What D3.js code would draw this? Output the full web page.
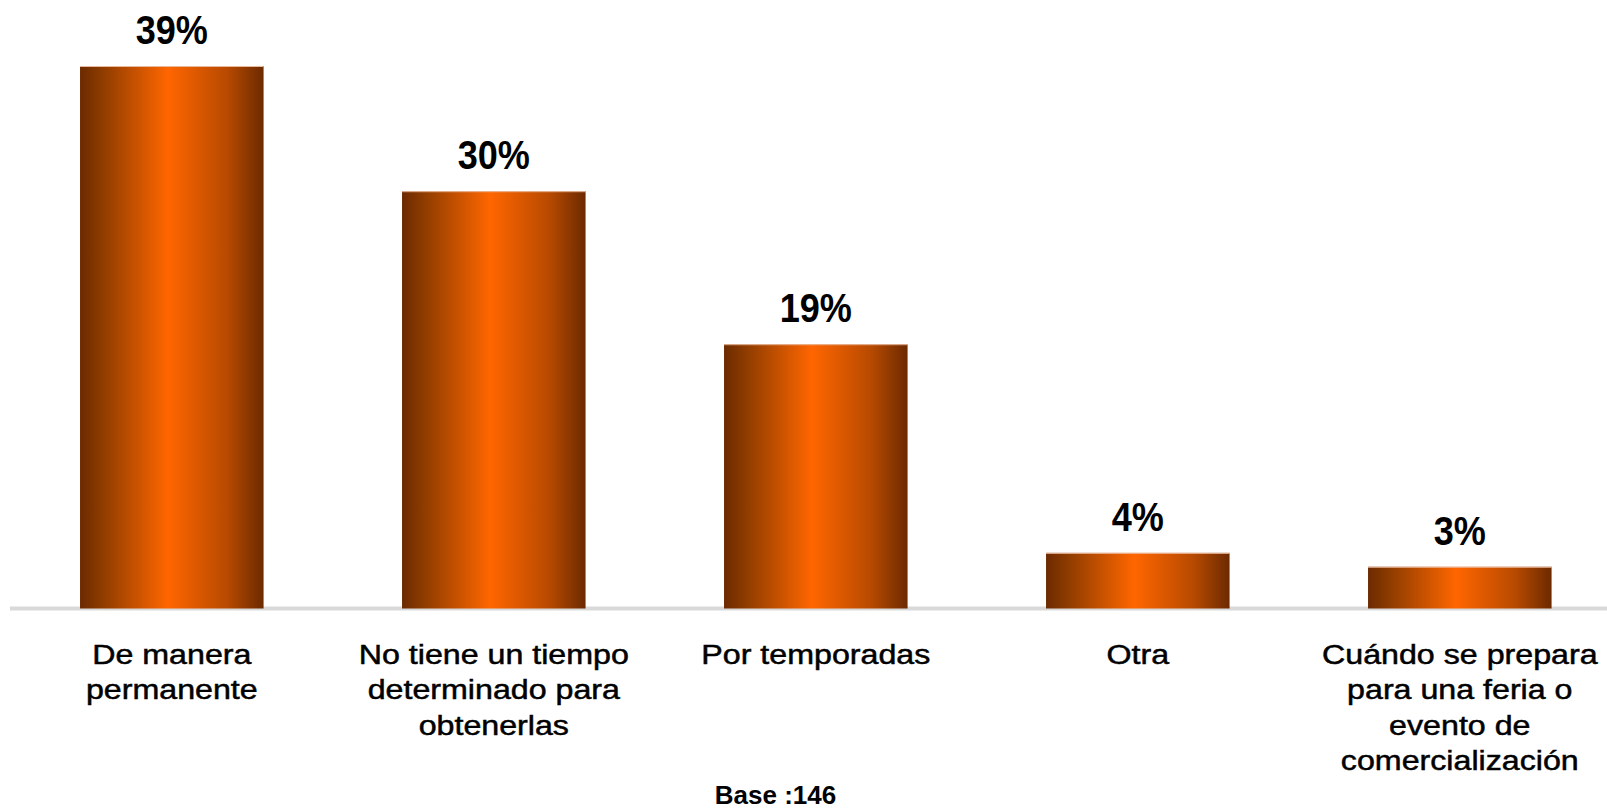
<!DOCTYPE html>
<html>
<head>
<meta charset="utf-8">
<script src="https://cdn.jsdelivr.net/npm/d3@7"></script>
<style>
  html, body { margin: 0; padding: 0; background: #fff; }
  svg { display: block; }
</style>
</head>
<body>
<div id="container"></div>
<script>
/* DATA */
const categories = [
  ["De manera", "permanente"],
  ["No tiene un tiempo", "determinado para", "obtenerlas"],
  ["Por temporadas"],
  ["Otra"],
  ["Cuándo se prepara", "para una feria o", "evento de", "comercialización"]
];
const values = [39, 30, 19, 4, 3];
const valueLabels = ["39%", "30%", "19%", "4%", "3%"];
const baseNote = "Base :146";

/* SIZES */
const width = 1607,
      height = 811,
      baseY = 608.5;

const svg = d3.select("#container")
  .append("svg")
  .attr("width", width)
  .attr("height", height);

// horizontal shading of the bars: dark edges, bright orange middle
const grad = svg.append("defs")
  .append("linearGradient")
  .attr("id", "barGrad")
  .attr("x1", "0%").attr("x2", "100%")
  .attr("y1", "0%").attr("y2", "0%");
grad.append("stop").attr("offset", "0%").attr("stop-color", "#6c2a00");
grad.append("stop").attr("offset", "12%").attr("stop-color", "#8e3c00");
grad.append("stop").attr("offset", "48%").attr("stop-color", "#ff6600");
grad.append("stop").attr("offset", "80%").attr("stop-color", "#b84a00");
grad.append("stop").attr("offset", "100%").attr("stop-color", "#6c2a00");

// scales
const xScale = d3.scaleBand()
  .domain(d3.range(values.length))
  .range([10.8, 1620.8])
  .paddingInner(0.43)
  .paddingOuter(0.215);

const yScale = d3.scaleLinear()
  .domain([0, 39])
  .range([baseY, 66]);

// baseline (grey axis line)
svg.append("line")
  .attr("x1", 10)
  .attr("x2", width)
  .attr("y1", baseY)
  .attr("y2", baseY)
  .attr("stroke", "#d9d9d9")
  .attr("stroke-width", 4);

// bars
svg.selectAll(".bar")
  .data(values)
  .join("rect")
  .attr("class", "bar")
  .attr("x", (d, i) => xScale(i))
  .attr("y", d => yScale(d))
  .attr("width", xScale.bandwidth())
  .attr("height", d => baseY - yScale(d))
  .attr("fill", "url(#barGrad)");

// pale top edge of each bar
svg.selectAll(".bar-top")
  .data(values)
  .join("line")
  .attr("class", "bar-top")
  .attr("x1", (d, i) => xScale(i))
  .attr("x2", (d, i) => xScale(i) + xScale.bandwidth())
  .attr("y1", d => yScale(d) + 0.5)
  .attr("y2", d => yScale(d) + 0.5)
  .attr("stroke", "#e9b99c")
  .attr("stroke-width", 1);

// value labels
svg.selectAll(".value-label")
  .data(values)
  .join("text")
  .attr("class", "value-label")
  .attr("transform", (d, i) => `translate(${xScale(i) + xScale.bandwidth() / 2}, ${yScale(d) - 22}) scale(0.95, 1.08)`)
  .attr("text-anchor", "middle")
  .attr("font-family", "'Liberation Sans', Arial, sans-serif")
  .attr("font-weight", "bold")
  .attr("font-size", 38)
  .attr("fill", "#000")
  .text((d, i) => valueLabels[i]);

// category labels (multi-line, slightly widened like the original)
const catText = svg.selectAll(".cat-label")
  .data(categories)
  .join("text")
  .attr("class", "cat-label")
  .attr("transform", (d, i) => `translate(${xScale(i) + xScale.bandwidth() / 2}, 0) scale(1.15, 1)`)
  .attr("text-anchor", "middle")
  .attr("font-family", "'Liberation Sans', Arial, sans-serif")
  .attr("font-size", 28)
  .attr("fill", "#000")
  .attr("stroke", "#000")
  .attr("stroke-width", 0.5);

catText.selectAll("tspan")
  .data(d => d)
  .join("tspan")
  .attr("x", 0)
  .attr("y", (d, j) => 664 + j * 35.5)
  .text(d => d);

// base note
svg.append("text")
  .attr("x", 775.5)
  .attr("y", 804)
  .attr("text-anchor", "middle")
  .attr("font-family", "'Liberation Sans', Arial, sans-serif")
  .attr("font-weight", "bold")
  .attr("font-size", 26)
  .attr("fill", "#000")
  .text(baseNote);
</script>
</body>
</html>
